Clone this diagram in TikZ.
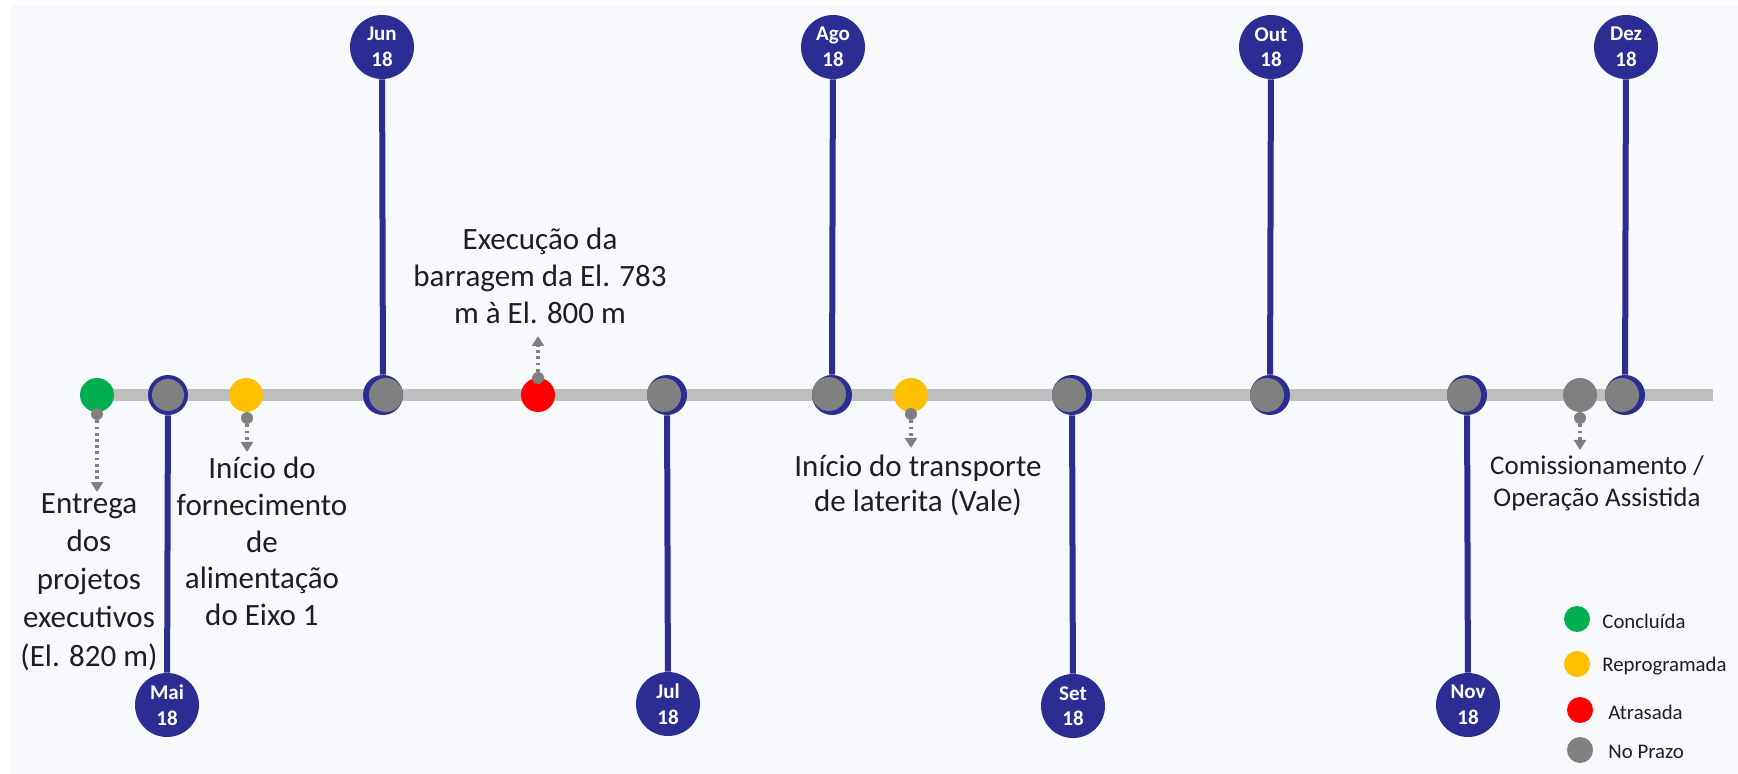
\documentclass[tikz,border=0pt]{standalone}
\usepackage{fontspec}
\setmainfont{Carlito}
\usetikzlibrary{arrows.meta}
\definecolor{navy}{RGB}{43,45,146}
\definecolor{bgc}{RGB}{248,249,253}
\definecolor{lgray}{RGB}{190,190,190}
\definecolor{dgray}{RGB}{128,128,128}
\definecolor{cgreen}{RGB}{0,176,80}
\definecolor{cyellow}{RGB}{255,192,0}
\definecolor{cred}{RGB}{255,0,0}
\definecolor{textc}{RGB}{30,30,30}
\tikzset{
  badge/.style={circle, fill=navy, minimum size=32pt, inner sep=0pt, text=white, align=center,
    font=\bfseries\fontsize{10.5}{12.8}\selectfont},
  ring/.style={circle, fill=navy, minimum size=20pt, inner sep=0pt},
  gdot/.style={circle, fill=dgray, minimum size=17pt, inner sep=0pt},
  sdot/.style={circle, fill=#1, minimum size=17pt, inner sep=0pt},
  tinydot/.style={circle, fill=dgray, minimum size=6pt, inner sep=0pt},
  legdot/.style={circle, fill=#1, minimum size=13pt, inner sep=0pt},
  vline/.style={draw=navy, line width=3pt},
  mainline/.style={draw=lgray, line width=6pt},
  darrow/.style={draw=dgray, line width=1.6pt, dash pattern=on 1.4pt off 1.7pt,
    -{Triangle[width=6pt,length=5pt]}},
  txt/.style={text=textc, align=center, inner sep=0pt, anchor=north},
  legtxt/.style={text=textc, inner sep=0pt, anchor=west, font=\fontsize{10.4}{13}\selectfont},
}
\begin{document}
\begin{tikzpicture}[x=0.5pt,y=-0.5pt]
\useasboundingbox (0,0) rectangle (1738,774);
\fill[white] (0,0) rectangle (1738,774);
\fill[bgc] (11,5) rectangle (1738,774);
% main timeline
\coordinate (L) at (97,395);
\coordinate (R) at (1713,395);
\draw[mainline] (L) -- (R);
% milestone rings
\node[ring] (mMai) at (168,395) {};
\node[gdot, minimum size=16pt] at (168,395) {};
\node[ring] (mJun) at (383,395) {};
\node[gdot] at (386,395) {};
\node[ring] (mJul) at (667,395) {};
\node[gdot] at (664,395) {};
\node[ring] (mAgo) at (832,395) {};
\node[gdot] at (829,394) {};
\node[ring] (mSet) at (1072,395) {};
\node[gdot] at (1069,395) {};
\node[ring] (mOut) at (1270,395) {};
\node[gdot] at (1267,395) {};
\node[ring] (mNov) at (1467,395) {};
\node[gdot] at (1464,395) {};
\node[ring] (mDez) at (1625,395) {};
\node[gdot] at (1622,395) {};
% badges
\node[badge] (bMai) at (167,705) {Mai\\18};
\node[badge] (bJun) at (382,47) {Jun\\18};
\node[badge] (bJul) at (668,704) {Jul\\18};
\node[badge] (bAgo) at (833,47) {Ago\\18};
\node[badge] (bSet) at (1073,706) {Set\\18};
\node[badge] (bOut) at (1271,47) {Out\\18};
\node[badge] (bNov) at (1468,705) {Nov\\18};
\node[badge] (bDez) at (1626,47) {Dez\\18};
\draw[vline] (bMai) -- (mMai);
\draw[vline] (bJun) -- (mJun);
\draw[vline] (bJul) -- (mJul);
\draw[vline] (bAgo) -- (mAgo);
\draw[vline] (bSet) -- (mSet);
\draw[vline] (bOut) -- (mOut);
\draw[vline] (bNov) -- (mNov);
\draw[vline] (bDez) -- (mDez);
% status dots
\node[sdot=cgreen] (dG) at (97,395) {};
\node[sdot=cyellow] (dY1) at (246,395) {};
\node[sdot=cred] (dR) at (538,395) {};
\node[sdot=cyellow] (dY2) at (911,395) {};
\node[sdot=dgray] (dC) at (1580,395) {};
% small dots and dotted arrows
\node[tinydot] (tG) at (97,414) {};
\coordinate (eG) at (97,492);
\draw[darrow] (tG) -- (eG);
\node[tinydot] (tY1) at (247,418) {};
\coordinate (eY1) at (247,452);
\draw[darrow] (tY1) -- (eY1);
\node[tinydot] (tR) at (538,378) {};
\coordinate (eR) at (538,336);
\draw[darrow] (tR) -- (eR);
\node[tinydot] (tY2) at (911,414) {};
\coordinate (eY2) at (911,448);
\draw[darrow] (tY2) -- (eY2);
\node[tinydot] (tC) at (1580,418) {};
\coordinate (eC) at (1580,450);
\draw[darrow] (tC) -- (eC);
% texts
\node[txt, font=\fontsize{15.5}{19.1}\selectfont] (xG) at (89,493) {Entrega\\dos\\projetos\\executivos\\(El. 820 m)};
\node[txt, font=\fontsize{15.5}{18.3}\selectfont] (xY1) at (262,457) {Início do\\fornecimento\\de\\alimentação\\do Eixo 1};
\node[txt, font=\fontsize{15.5}{18.5}\selectfont] (xR) at (540,228) {Execução da\\barragem da El. 783\\m à El. 800 m};
\node[txt, font=\fontsize{15.5}{17.5}\selectfont] (xY2) at (918,455) {Início do transporte\\de laterita (Vale)};
\node[txt, font=\fontsize{13.5}{16}\selectfont] (xC) at (1597,455) {Comissionamento /\\Operação Assistida};
% legend
\node[legdot=cgreen] (lG) at (1577,619) {};
\node[legdot=cyellow] (lY) at (1577,664) {};
\node[legdot=cred] (lR) at (1580,710) {};
\node[legdot=dgray] (lN) at (1580,750) {};
\node[legtxt] (ltG) at (1602,621) {Concluída};
\node[legtxt] (ltY) at (1602,666) {Reprogramada};
\node[legtxt] (ltR) at (1608,712) {Atrasada};
\node[legtxt] (ltN) at (1608,752) {No Prazo};
\end{tikzpicture}
\end{document}
